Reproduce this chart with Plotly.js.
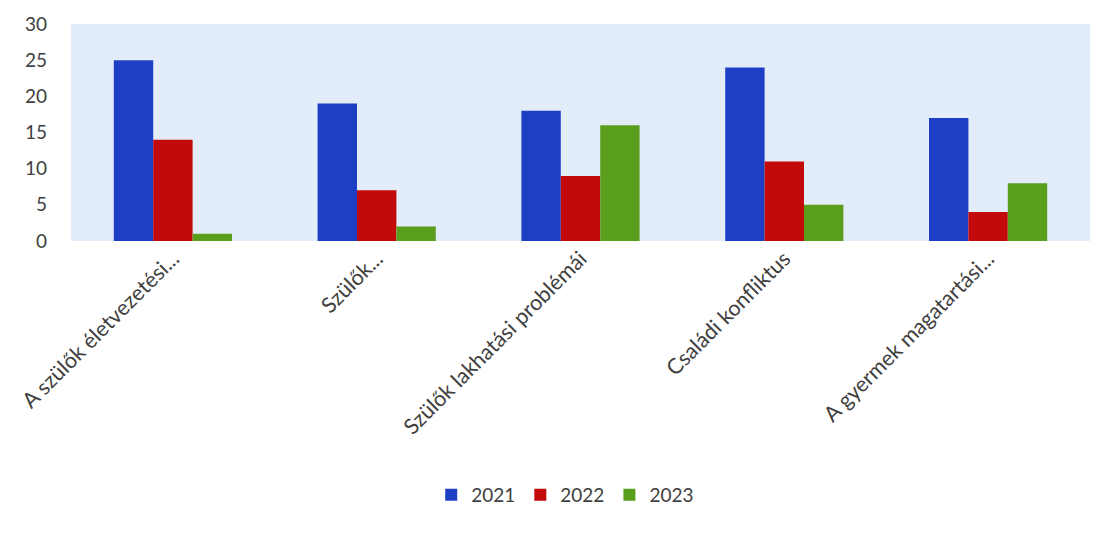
<!DOCTYPE html>
<html><head><meta charset="utf-8">
<script src="https://cdn.plot.ly/plotly-3.0.1.min.js"></script>
<style>html,body{margin:0;padding:0;background:#fff}#c{width:1107px;height:534px}</style>
</head><body><div id="c"></div>
<script>
const categories = ["A szülők életvezetési...", "Szülők...", "Szülők lakhatási problémái", "Családi konfliktus", "A gyermek magatartási..."];
const series2021 = [25, 19, 18, 24, 17];
const series2022 = [14, 7, 9, 11, 4];
const series2023 = [1, 2, 16, 5, 8];
const yTicks = [0, 5, 10, 15, 20, 25, 30];

const mk = (name, y, color) => ({type: 'bar', name, x: categories, y, marker: {color}});
const data = [
  mk('2021', series2021, '#1c3fc4'),
  mk('2022', series2022, '#c20a0a'),
  mk('2023', series2023, '#5a9e1e')
];
const fam = 'Lato, "Open Sans", sans-serif';
const xfont = {family: fam, size: 21.5, color: '#404040'};
const yfont = {family: fam, size: 19, color: '#404040'};
const lfont = {family: fam, size: 19, color: '#404040'};
Plotly.newPlot('c', data, {
  width: 1107, height: 534,
  margin: {l: 71, r: 17, t: 24, b: 293},
  paper_bgcolor: '#ffffff', plot_bgcolor: '#e3edf9',
  font: yfont,
  bargap: 0.42, bargroupgap: 0,
  xaxis: {tickangle: -45, showgrid: false, zeroline: false, showline: false, tickfont: xfont, automargin: false},
  yaxis: {range: [0, 30], tickvals: yTicks, showgrid: false, zeroline: false, showline: false, ticklabelstandoff: 23, tickfont: yfont, automargin: false},
  legend: {orientation: 'h', x: 0.485, xanchor: 'center', y: -1.17, yanchor: 'middle', font: lfont, itemwidth: 30, traceorder: 'normal'},
  showlegend: true
}, {displayModeBar: false, staticPlot: true});
</script></body></html>
